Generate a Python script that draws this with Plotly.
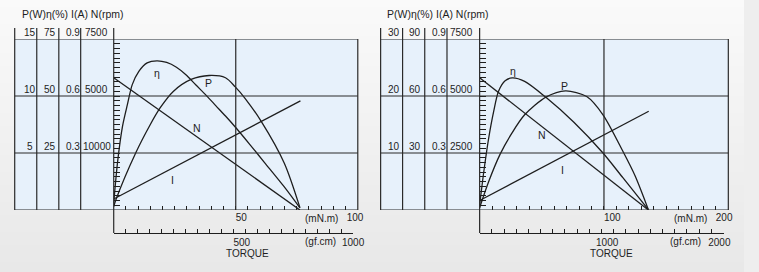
import base64
import struct
import zlib

import plotly.graph_objects as go

W, H = 759, 272

# ---------------- data: left motor (torque in mN.m) ----------------
L_T_P = [0, 0.9, 9.0, 15.0, 19.0, 24.4, 31.7, 39.1, 45.8, 49.8, 53.8, 60.5, 69.9, 76.3]
L_P = [0.3, 0.9, 5.0, 7.5, 8.95, 10.4, 11.45, 11.8, 11.6, 10.8, 9.8, 7.75, 4.1, 0.2]
L_T_EFF = [0, 1.6, 3.6, 5.6, 7.6, 10.3, 13.7, 17.7, 21.7, 25.7, 29.7, 33.7, 37.8, 41.8, 45.8,
           49.8, 55.8, 61.8, 69.9, 76.3]
L_EFF = [3, 21.2, 36.7, 46.2, 55.0, 60.8, 64.5, 65.4, 64.7, 62.6, 59.2, 54.8, 50.4, 45.8, 41.2,
         36.4, 28.7, 20.8, 10.1, 0.9]
L_T_N = [0, 76.3]
L_N = [5800, 0]
L_T_I = [0, 76.5]
L_I = [0.058, 0.574]

L_P_TICKS = [15, 10, 5]
L_EFF_TICKS = [75, 50, 25]
L_I_TICKS = ["0.9", "0.6", "0.3"]
L_N_TICKS = ["7500", "5000", "10000"]
L_MNM_LABELS = {50: "50", 100: "100"}
L_GF_LABELS = {500: "500", 1000: "1000"}

# ---------------- data: right motor ----------------
R_T_P = [0, 7.3, 16.5, 25.7, 36.2, 53.3, 69.1, 86.1, 99.2, 115.2, 125, 135.7]
R_P = [0.4, 5.0, 9.8, 13.4, 16.7, 19.8, 20.9, 19.9, 16.7, 10.3, 6.0, 0.05]
R_T_EFF = [0, 3.4, 7.3, 11.3, 15.2, 20.5, 26.2, 36.2, 53.3, 75.6, 99.2, 115.2, 135.7]
R_EFF = [2.6, 20.4, 37.9, 51.9, 62.5, 68.0, 69.5, 67.7, 59.3, 46.3, 30.0, 17.0, 0.2]
R_T_N = [0, 135.7]
R_N = [5800, 0]
R_T_I = [0, 136]
R_I = [0.05, 0.52]

R_P_TICKS = [30, 20, 10]
R_EFF_TICKS = [90, 60, 30]
R_I_TICKS = ["0.9", "0.6", "0.3"]
R_N_TICKS = ["7500", "5000", "2500"]
R_MNM_LABELS = {100: "100", 200: "200"}
R_GF_LABELS = {1000: "1000", 2000: "2000"}

GF_PER_MNM = 1 / 0.0980665

# ---------------- styling ----------------
FONT = "Liberation Sans, Arial, sans-serif"
INK = "#1e1e1e"
GRID = "#2a2a2a"
BLUE = "#e7f1fb"
NB = "\u00a0"
FS = 10


def X(px):
    return px / W


def Y(py):
    return 1 - py / H


def gradient_png(top, bottom, n=64):
    rows = []
    for i in range(n):
        f = i / (n - 1)
        rows.append(bytes(round(a + (b - a) * f) for a, b in zip(top, bottom)))
    raw = b"".join(b"\x00" + r for r in rows)

    def chunk(t, d):
        return struct.pack(">I", len(d)) + t + d + struct.pack(">I", zlib.crc32(t + d) & 0xFFFFFFFF)

    ihdr = struct.pack(">IIBBBBB", 1, n, 8, 2, 0, 0, 0)
    png = b"\x89PNG\r\n\x1a\n" + chunk(b"IHDR", ihdr) + chunk(b"IDAT", zlib.compress(raw)) + chunk(b"IEND", b"")
    return "data:image/png;base64," + base64.b64encode(png).decode()


fig = go.Figure()
shapes = []
annotations = []

panels = [
    dict(x="x", xa="xaxis", ys=["y", "y2", "y3", "y4"], yn=["yaxis", "yaxis2", "yaxis3", "yaxis4"],
         gx="x3", gxa="xaxis3",
         left=15, cols=[37.5, 60, 82.3], axis=116, right=365, xmax=100, dt=5,
         T_P=L_T_P, P=L_P, T_E=L_T_EFF, E=L_EFF, T_N=L_T_N, N=L_N, T_I=L_T_I, I=L_I,
         pt=L_P_TICKS, et=L_EFF_TICKS, it=L_I_TICKS, nt=L_N_TICKS,
         col_c=[30.7, 51, 74.2, 98.5], mlab=L_MNM_LABELS, glab=L_GF_LABELS, gmax=1000, gdt=50,
         mshift={50: (4, 0), 100: (0, 2)}, gshift={500: (6, 0), 1000: (0, 0)},
         lab=dict(eta=(17.7, 12.0), P=(39, 11.1), N=(34, 7.2), I=(24, 2.6)),
         title_c=74, unit_m=327.5, unit_g=326.7, torque=252, mid=50),
    dict(x="x2", xa="xaxis2", ys=["y5", "y6", "y7", "y8"], yn=["yaxis5", "yaxis6", "yaxis7", "yaxis8"],
         gx="x4", gxa="xaxis4",
         left=388.3, cols=[410.7, 433.3, 456], axis=489.3, right=743, xmax=200, dt=10,
         T_P=R_T_P, P=R_P, T_E=R_T_EFF, E=R_EFF, T_N=R_T_N, N=R_N, T_I=R_T_I, I=R_I,
         pt=R_P_TICKS, et=R_EFF_TICKS, it=R_I_TICKS, nt=R_N_TICKS,
         col_c=[402, 423.5, 447.5, 470.5], mlab=R_MNM_LABELS, glab=R_GF_LABELS, gmax=2000, gdt=100,
         mshift={100: (6, 0), 200: (0, 3)}, gshift={1000: (4, 0), 2000: (0, 3)},
         lab=dict(eta=(27, 24.3), P=(68.3, 21.8), N=(50.2, 13.1), I=(66.4, 7.07)),
         title_c=446.5, unit_m=704, unit_g=699.7, torque=623.8, mid=100),
]

TOP, BOT, HDR, GFY = 39, 210, 28, 233
layout_axes = {}


def lab(d, shifts, v):
    if v not in d:
        return ""
    lead, trail = shifts.get(v, (0, 0))
    return NB * lead + d[v] + NB * trail


for p in panels:
    yP, yE, yI, yN = p["ys"]
    pmax = p["pt"][0]
    for xs, ys, ya in [(p["T_P"], p["P"], yP), (p["T_E"], p["E"], yE)]:
        fig.add_trace(go.Scatter(x=xs, y=ys, xaxis=p["x"], yaxis=ya, mode="lines",
                                 line=dict(color=INK, width=1.3, shape="spline", smoothing=0.8),
                                 showlegend=False, hoverinfo="skip"))
    for xs, ys, ya in [(p["T_N"], p["N"], yN), (p["T_I"], p["I"], yI)]:
        fig.add_trace(go.Scatter(x=xs, y=ys, xaxis=p["x"], yaxis=ya, mode="lines",
                                 line=dict(color=INK, width=1.3),
                                 showlegend=False, hoverinfo="skip"))
    fig.add_trace(go.Scatter(x=[0, p["gmax"]], y=[None, None], xaxis=p["gx"], yaxis=yP,
                             mode="lines", showlegend=False, hoverinfo="skip"))

    dom = [X(p["axis"]), X(p["right"])]
    ydom = [Y(BOT), Y(TOP)]
    mt = list(range(0, p["xmax"] + 1, p["dt"]))
    tf = dict(family=FONT, size=FS, color=INK)
    layout_axes[p["xa"]] = dict(
        domain=dom, range=[0, p["xmax"]], anchor=yP, showline=False, showgrid=False, zeroline=False,
        ticks="inside", ticklen=4, tickwidth=1, tickcolor=INK, tickmode="array", tickvals=mt,
        ticktext=[lab(p["mlab"], p["mshift"], v) for v in mt], tickfont=tf, fixedrange=True)
    gend = p["axis"] + (p["right"] - p["axis"]) * (p["gmax"] / GF_PER_MNM) / p["xmax"]
    gt = list(range(0, p["gmax"] + 1, p["gdt"]))
    layout_axes[p["gxa"]] = dict(
        domain=[X(p["axis"]), X(gend)], range=[0, p["gmax"]], anchor="free", position=Y(GFY),
        side="bottom", showline=True, linecolor=INK, linewidth=1.2, showgrid=False, zeroline=False,
        ticks="inside", ticklen=4, tickwidth=1, tickcolor=INK, tickmode="array", tickvals=gt,
        ticktext=[lab(p["glab"], p["gshift"], v) for v in gt], tickfont=tf, fixedrange=True)
    layout_axes[p["yn"][0]] = dict(
        domain=ydom, range=[0, pmax], anchor=p["x"], showline=False, showgrid=False, zeroline=False,
        ticks="inside", ticklen=6, tickwidth=1, tickcolor=INK, tick0=0, dtick=pmax / 36,
        showticklabels=False, fixedrange=True)
    for yn, top in zip(p["yn"][1:], [p["et"][0], float(p["it"][0]), 7500]):
        layout_axes[yn] = dict(overlaying=yP, range=[0, top], visible=False, fixedrange=True)

    shapes.append(dict(type="rect", xref="paper", yref="paper", x0=X(p["left"]), x1=X(p["right"]),
                       y0=Y(BOT), y1=Y(TOP), fillcolor=BLUE, line=dict(width=0), layer="below"))
    for v in [0] + p["pt"]:
        shapes.append(dict(type="line", xref="paper", yref=yP, x0=X(p["left"]), x1=X(p["right"]),
                           y0=v, y1=v, line=dict(color=GRID, width=1.2)))
    for cx in [p["left"]] + p["cols"]:
        shapes.append(dict(type="line", xref="paper", yref="paper", x0=X(cx), x1=X(cx),
                           y0=Y(HDR), y1=Y(BOT), line=dict(color=GRID, width=1.2)))
    shapes.append(dict(type="line", xref="paper", yref="paper", x0=X(p["axis"]), x1=X(p["axis"]),
                       y0=Y(HDR), y1=Y(GFY), line=dict(color=GRID, width=1.2)))
    shapes.append(dict(type="line", xref="paper", yref="paper", x0=X(p["right"]), x1=X(p["right"]),
                       y0=Y(TOP), y1=Y(BOT), line=dict(color=GRID, width=1.2)))
    shapes.append(dict(type="line", xref=p["x"], yref="paper", x0=p["mid"], x1=p["mid"],
                       y0=Y(BOT), y1=Y(TOP), line=dict(color=GRID, width=1.2)))

    for row in range(3):
        vals = [str(p["pt"][row]), str(p["et"][row]), p["it"][row], p["nt"][row]]
        for cx, t in zip(p["col_c"], vals):
            annotations.append(dict(x=X(cx), xref="paper", y=p["pt"][row], yref=yP, yshift=6.5,
                                    text=t, showarrow=False, xanchor="center", yanchor="middle",
                                    font=dict(family=FONT, size=FS, color=INK)))
    annotations.append(dict(x=X(p["title_c"]), y=Y(13.5), xref="paper", yref="paper",
                            text="P(W)η(%) I(A) N(rpm)", showarrow=False, xanchor="center",
                            yanchor="middle", font=dict(family=FONT, size=10.5, color=INK)))
    for key, txt in [("eta", "η"), ("P", "P"), ("N", "N"), ("I", "I")]:
        lx, ly = p["lab"][key]
        annotations.append(dict(x=lx, y=ly, xref=p["x"], yref=yP, text=txt, showarrow=False,
                                font=dict(family=FONT, size=10.5, color=INK)))
    for txt, cx, cy in [("(mN.m)", p["unit_m"], 218), ("(gf.cm)", p["unit_g"], 241),
                        ("TORQUE", p["torque"], 253.5)]:
        annotations.append(dict(x=X(cx), y=Y(cy), xref="paper", yref="paper", text=txt,
                                showarrow=False, xanchor="center", yanchor="middle",
                                font=dict(family=FONT, size=FS, color=INK)))

fig.update_layout(
    width=W, height=H, margin=dict(l=0, r=0, t=0, b=0),
    paper_bgcolor="#eeeeee", plot_bgcolor="rgba(0,0,0,0)",
    images=[dict(source=gradient_png((250, 250, 250), (232, 232, 232)), xref="paper", yref="paper",
                 x=0, y=1, sizex=1, sizey=1, sizing="stretch", xanchor="left", yanchor="top",
                 layer="below")],
    shapes=shapes, annotations=annotations, showlegend=False, **layout_axes)

fig.write_html("out.html", config=dict(displayModeBar=False, staticPlot=True))
